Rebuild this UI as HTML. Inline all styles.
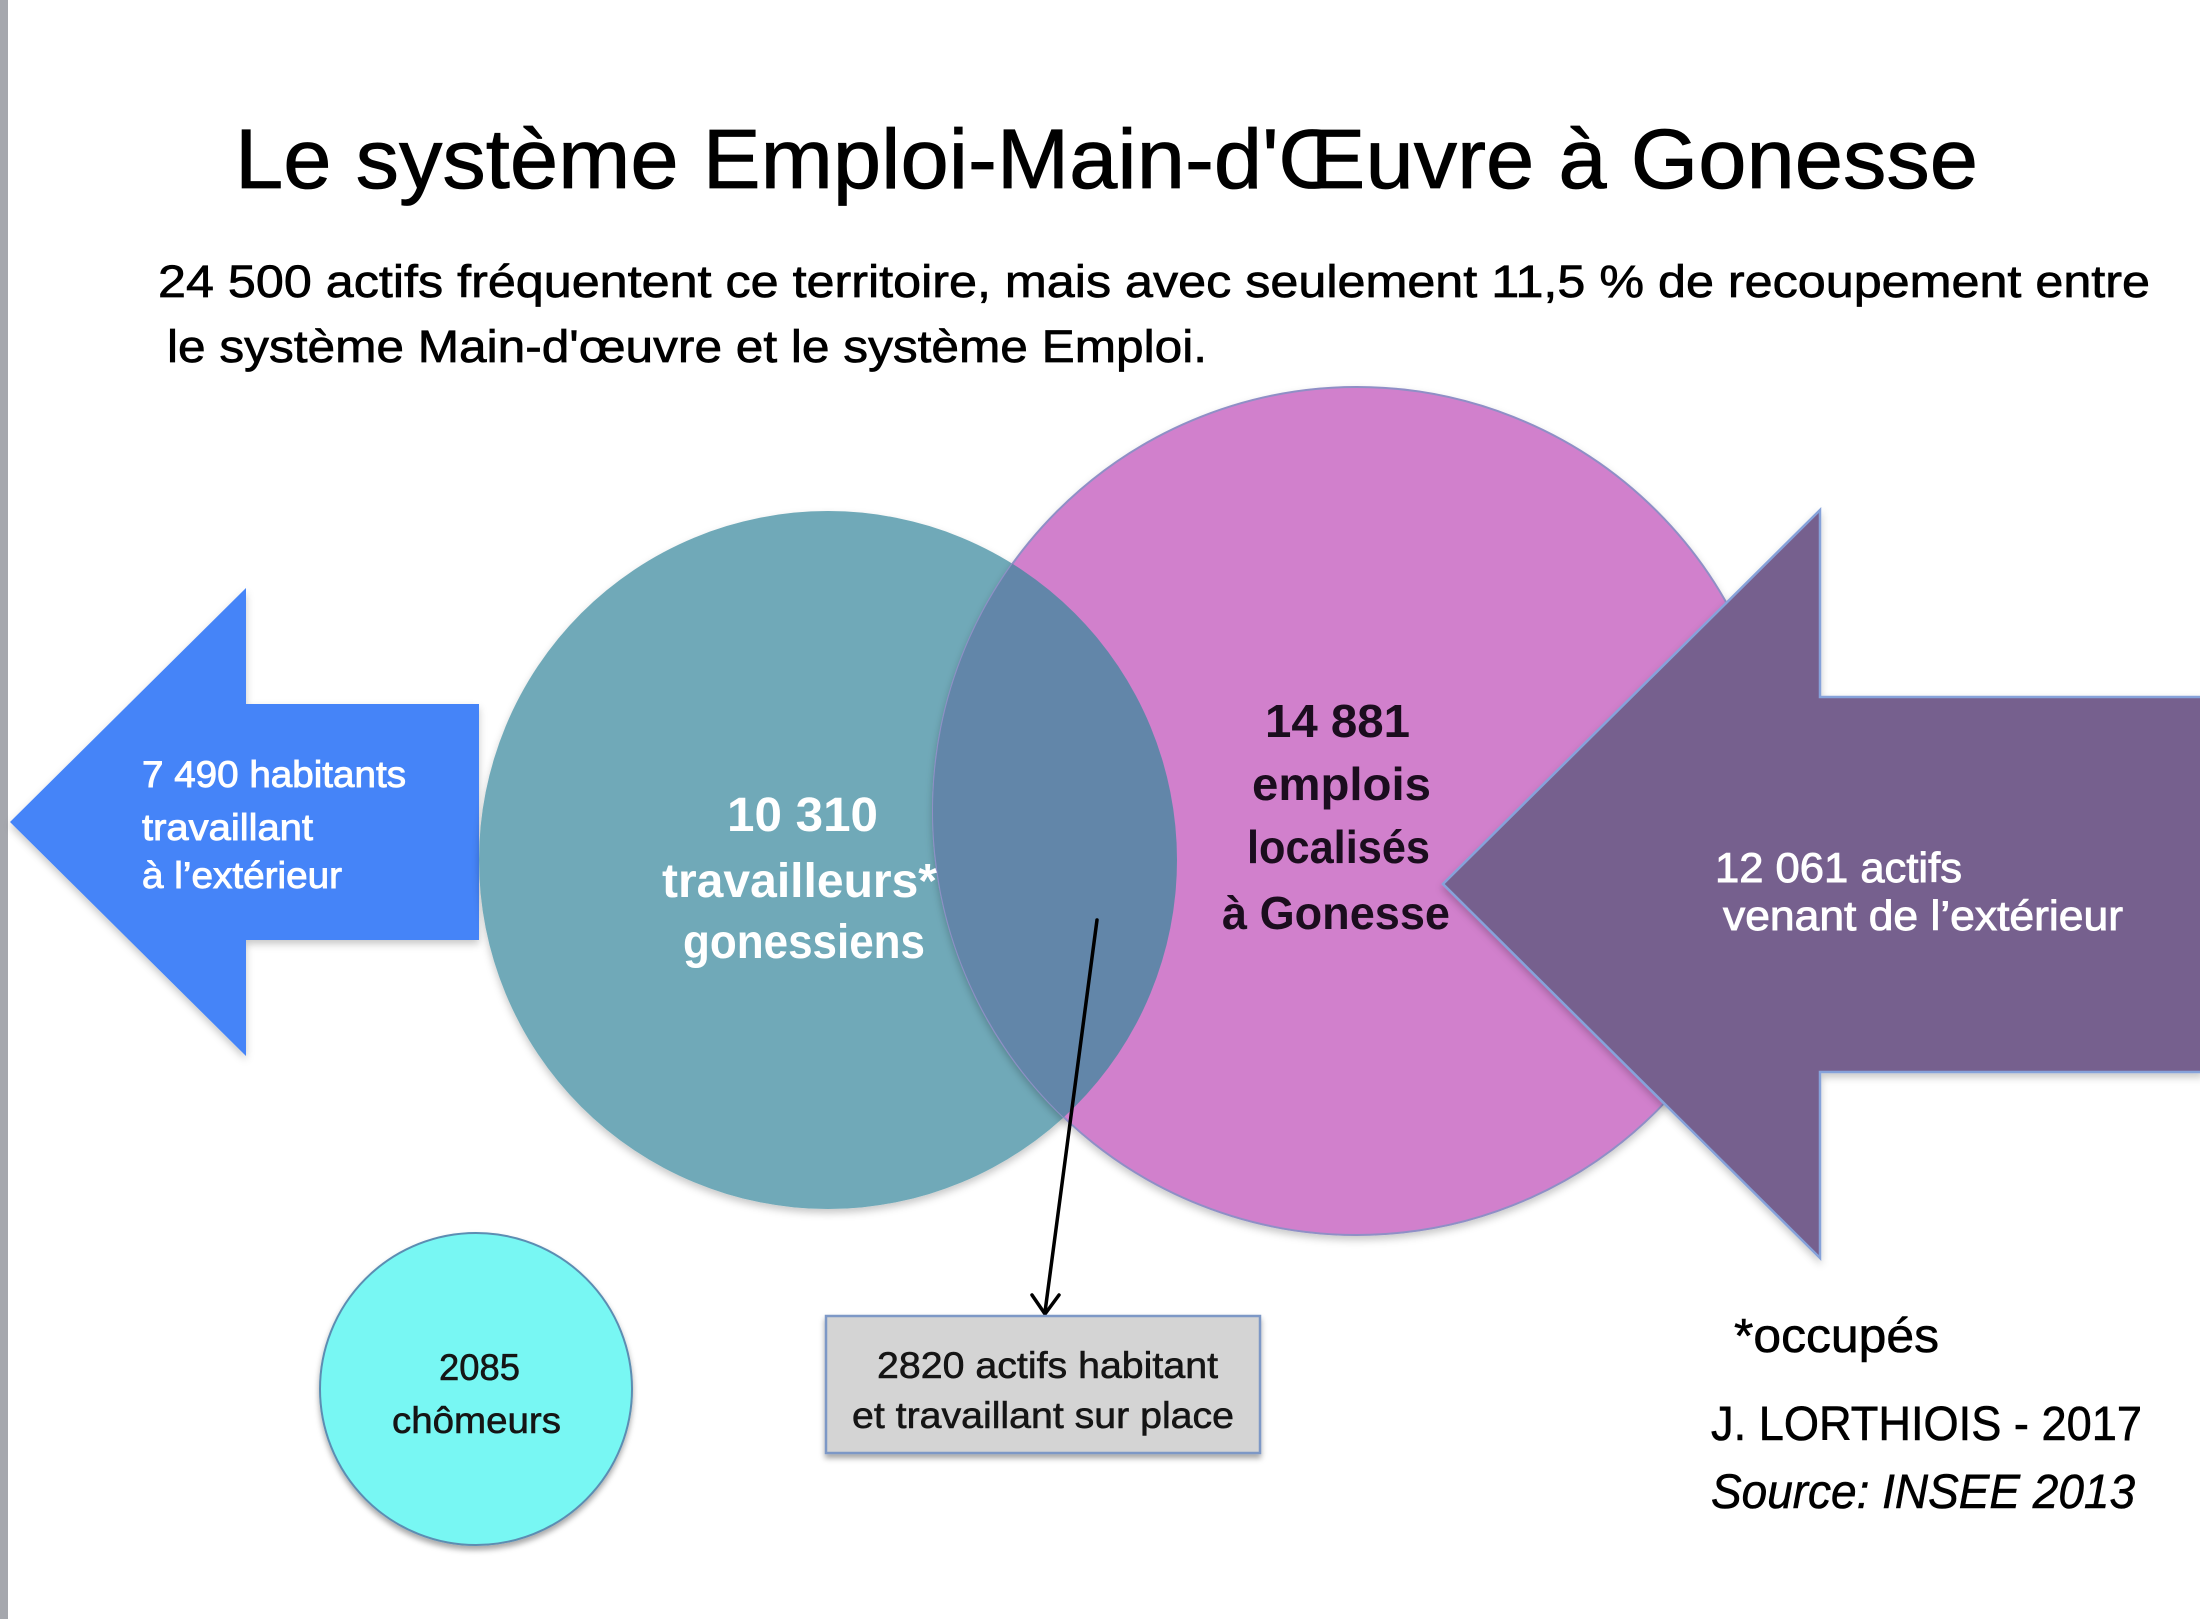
<!DOCTYPE html>
<html>
<head>
<meta charset="utf-8">
<style>
  html, body { margin: 0; padding: 0; background: #ffffff; }
  svg { display: block; }
  text { font-family: "Liberation Sans", "DejaVu Sans", sans-serif; }
</style>
</head>
<body>
<svg width="2200" height="1619" viewBox="0 0 2200 1619" xmlns="http://www.w3.org/2000/svg">
  <defs>
    <filter id="sh" x="-10%" y="-10%" width="120%" height="125%">
      <feDropShadow dx="0" dy="4" stdDeviation="4" flood-color="#000000" flood-opacity="0.22"/>
    </filter>
    <filter id="sh2" x="-10%" y="-10%" width="120%" height="130%">
      <feDropShadow dx="0" dy="4" stdDeviation="3" flood-color="#000000" flood-opacity="0.35"/>
    </filter>
    <clipPath id="pinkClip">
      <circle cx="1357" cy="811" r="424"/>
    </clipPath>
  </defs>

  <rect x="0" y="0" width="2200" height="1619" fill="#ffffff"/>
  <!-- left gray border -->
  <rect x="0" y="0" width="8" height="1619" fill="#a5a7ad"/>

  <!-- Title -->
  <text x="235" y="188" font-size="84" fill="#000000" stroke="#000000" stroke-width="0.8" textLength="1743" lengthAdjust="spacingAndGlyphs">Le système Emploi-Main-d'Œuvre à Gonesse</text>

  <!-- Subtitle -->
  <text x="158" y="297" font-size="45" fill="#000000" stroke="#000000" stroke-width="0.7" textLength="1992" lengthAdjust="spacingAndGlyphs">24 500 actifs fréquentent ce territoire, mais avec seulement 11,5 % de recoupement entre</text>
  <text x="167" y="362" font-size="45" fill="#000000" stroke="#000000" stroke-width="0.7" textLength="1040" lengthAdjust="spacingAndGlyphs">le système Main-d'œuvre et le système Emploi.</text>

  <!-- Blue arrow (left) -->
  <polygon points="10,822 246,588 246,704 479,704 479,940 246,940 246,1056" fill="#4584f8" filter="url(#sh)"/>

  <!-- Teal circle -->
  <circle cx="828" cy="860" r="349" fill="#6fa9b8" filter="url(#sh)"/>

  <!-- Pink circle -->
  <circle cx="1357" cy="811" r="424" fill="#d180cc" stroke="#8f8fc6" stroke-width="2" filter="url(#sh)"/>

  <!-- Overlap -->
  <circle cx="828" cy="860" r="349" fill="#6286a9" clip-path="url(#pinkClip)"/>

  <!-- Purple arrow (right) -->
  <polygon points="1443,884 1820,510 1820,697 2202,697 2202,1072 1820,1072 1820,1258" fill="#76608e" stroke="#86a2da" stroke-width="2.5" filter="url(#sh)"/>

  <!-- Blue arrow text -->
  <text x="142" y="787" font-size="37" fill="#ffffff" stroke="#ffffff" stroke-width="0.9" textLength="264" lengthAdjust="spacingAndGlyphs">7 490 habitants</text>
  <text x="142" y="840" font-size="37" fill="#ffffff" stroke="#ffffff" stroke-width="0.9" textLength="171" lengthAdjust="spacingAndGlyphs">travaillant</text>
  <text x="142" y="888" font-size="37" fill="#ffffff" stroke="#ffffff" stroke-width="0.9" textLength="200" lengthAdjust="spacingAndGlyphs">à l’extérieur</text>

  <!-- Teal text -->
  <text x="727" y="831" font-size="48" font-weight="bold" fill="#ffffff" textLength="151" lengthAdjust="spacingAndGlyphs">10 310</text>
  <text x="662" y="897" font-size="48" font-weight="bold" fill="#ffffff" textLength="275" lengthAdjust="spacingAndGlyphs">travailleurs*</text>
  <text x="683" y="958" font-size="48" font-weight="bold" fill="#ffffff" textLength="242" lengthAdjust="spacingAndGlyphs">gonessiens</text>

  <!-- Pink text -->
  <text x="1265" y="737" font-size="46" font-weight="bold" fill="#1b0d1e" textLength="145" lengthAdjust="spacingAndGlyphs">14 881</text>
  <text x="1252" y="800" font-size="46" font-weight="bold" fill="#1b0d1e" textLength="179" lengthAdjust="spacingAndGlyphs">emplois</text>
  <text x="1247" y="863" font-size="46" font-weight="bold" fill="#1b0d1e" textLength="183" lengthAdjust="spacingAndGlyphs">localisés</text>
  <text x="1222" y="929" font-size="46" font-weight="bold" fill="#1b0d1e" textLength="228" lengthAdjust="spacingAndGlyphs">à Gonesse</text>

  <!-- Purple arrow text -->
  <text x="1715" y="882" font-size="42" fill="#ffffff" stroke="#ffffff" stroke-width="0.9" textLength="247" lengthAdjust="spacingAndGlyphs">12 061 actifs</text>
  <text x="1723" y="930" font-size="42" fill="#ffffff" stroke="#ffffff" stroke-width="0.9" textLength="400" lengthAdjust="spacingAndGlyphs">venant de l’extérieur</text>

  <!-- Connector line with open arrowhead -->
  <line x1="1097" y1="920" x2="1045" y2="1312" stroke="#000000" stroke-width="3.5" stroke-linecap="round"/>
  <polyline points="1032,1295 1045,1314 1059,1295" fill="none" stroke="#000000" stroke-width="3.5" stroke-linecap="round" stroke-linejoin="round"/>

  <!-- Gray box -->
  <rect x="826" y="1316" width="434" height="137" fill="#d4d4d4" stroke="#7d98c6" stroke-width="2.5" filter="url(#sh2)"/>
  <text x="877" y="1378" font-size="37" fill="#151515" stroke="#151515" stroke-width="0.6" textLength="341" lengthAdjust="spacingAndGlyphs">2820 actifs habitant</text>
  <text x="852" y="1428" font-size="37" fill="#151515" stroke="#151515" stroke-width="0.6" textLength="382" lengthAdjust="spacingAndGlyphs">et travaillant sur place</text>

  <!-- Cyan circle -->
  <circle cx="476" cy="1389" r="156" fill="#78f7f3" stroke="#5b8db2" stroke-width="2" filter="url(#sh2)"/>
  <text x="439" y="1380" font-size="37" fill="#151515" stroke="#151515" stroke-width="0.6" textLength="81" lengthAdjust="spacingAndGlyphs">2085</text>
  <text x="392" y="1433" font-size="37" fill="#151515" stroke="#151515" stroke-width="0.6" textLength="169" lengthAdjust="spacingAndGlyphs">chômeurs</text>

  <!-- Footer -->
  <text x="1734" y="1352" font-size="48" fill="#000000" stroke="#000000" stroke-width="0.6" textLength="205" lengthAdjust="spacingAndGlyphs">*occupés</text>
  <text x="1711" y="1440" font-size="48" fill="#000000" stroke="#000000" stroke-width="0.6" textLength="431" lengthAdjust="spacingAndGlyphs">J. LORTHIOIS - 2017</text>
  <text x="1711" y="1508" font-size="48" font-style="italic" fill="#000000" stroke="#000000" stroke-width="0.6" textLength="424" lengthAdjust="spacingAndGlyphs">Source: INSEE 2013</text>
</svg>
</body>
</html>
